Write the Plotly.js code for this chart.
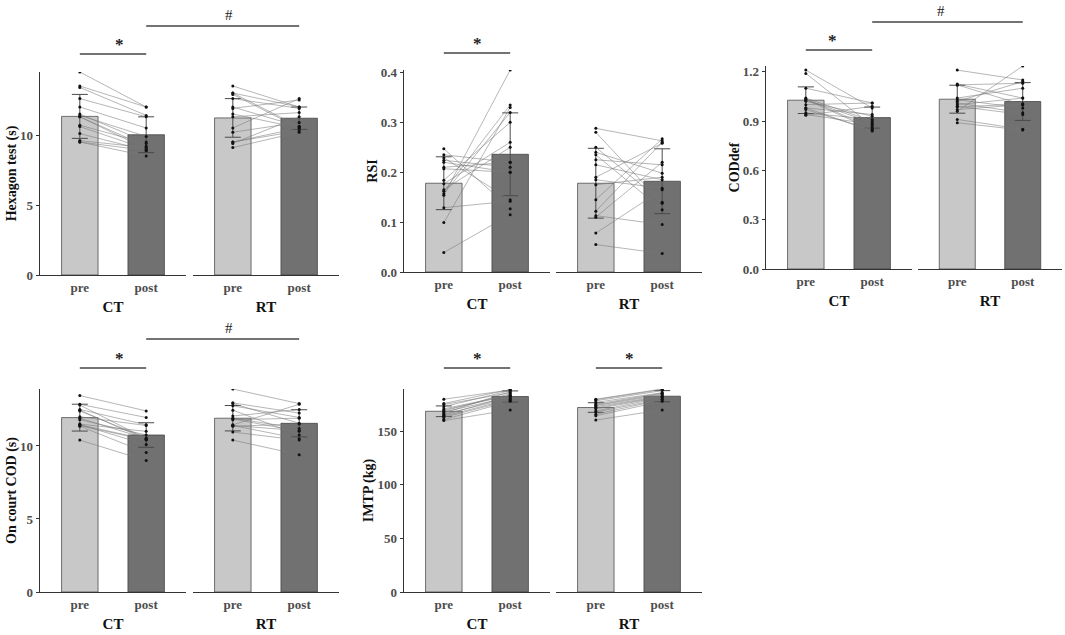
<!DOCTYPE html>
<html><head><meta charset="utf-8">
<script src="https://cdn.plot.ly/plotly-3.0.1.min.js"></script>
<style>html,body{margin:0;padding:0;background:#fff}#chart{width:1065px;height:635px}</style>
</head><body><div id="chart"></div>
<script>
// ---------- data ----------
const phases = ['pre', 'post'];
const groups = ['CT', 'RT'];

// Hexagon test (s)
const hexCTpre  = [14.5, 13.5, 13.4, 12.6, 12.0, 11.5, 11.4, 11.3, 11.3, 10.7, 10.6, 10.1, 9.6, 9.5, 9.5];
const hexCTpost = [12.0, 12.0, 11.4, 11.3, 10.5, 9.5, 9.9, 9.2, 9.0, 9.4, 9.0, 8.9, 9.1, 8.5, 8.9];
const hexRTpre  = [13.5, 13.0, 13.0, 12.9, 12.6, 12.0, 11.9, 11.5, 11.3, 10.5, 10.2, 9.5, 9.5, 9.4, 9.1];
const hexRTpost = [12.0, 10.6, 12.0, 10.5, 11.9, 10.6, 12.5, 10.5, 11.6, 12.6, 10.9, 10.5, 10.3, 11.3, 10.2];
const hexCTmean = [11.33, 10.02];
const hexCTsd   = [1.57, 1.28];
const hexRTmean = [11.22, 11.2];
const hexRTsd   = [1.38, 0.8];

// RSI
const rsiCTpre  = [0.247, 0.235, 0.229, 0.224, 0.22, 0.21, 0.207, 0.184, 0.177, 0.162, 0.157, 0.154, 0.129, 0.099, 0.039, 0.165];
const rsiCTpost = [0.127, 0.22, 0.145, 0.21, 0.2, 0.22, 0.2, 0.30, 0.26, 0.335, 0.32, 0.405, 0.142, 0.33, 0.115, 0.25];
const rsiRTpre  = [0.288, 0.28, 0.25, 0.24, 0.235, 0.225, 0.215, 0.19, 0.185, 0.175, 0.145, 0.122, 0.113, 0.11, 0.078, 0.055];
const rsiRTpost = [0.263, 0.138, 0.14, 0.198, 0.125, 0.215, 0.185, 0.258, 0.168, 0.19, 0.267, 0.26, 0.095, 0.22, 0.165, 0.037];
const rsiCTmean = [0.178, 0.236];
const rsiCTsd   = [0.053, 0.083];
const rsiRTmean = [0.178, 0.182];
const rsiRTsd   = [0.07, 0.065];

// CODdef
const codCTpre  = [1.21, 1.19, 1.10, 1.04, 1.035, 1.03, 1.03, 1.02, 1.0, 0.98, 0.98, 0.97, 0.95, 0.94, 0.935];
const codCTpost = [0.98, 0.87, 1.01, 0.90, 0.86, 0.89, 0.85, 0.93, 1.01, 0.84, 0.94, 0.845, 0.91, 0.88, 0.99];
const codRTpre  = [1.21, 1.125, 1.12, 1.12, 1.04, 1.03, 1.02, 1.01, 1.0, 0.99, 0.985, 0.97, 0.96, 0.91, 0.89];
const codRTpost = [1.15, 1.04, 1.13, 1.0, 1.10, 0.98, 1.14, 0.95, 1.04, 0.94, 1.005, 1.0, 1.235, 0.85, 0.845];
const codCTmean = [1.027, 0.921];
const codCTsd   = [0.081, 0.064];
const codRTmean = [1.033, 1.019];
const codRTsd   = [0.085, 0.115];

// On court COD (s)
const courtCTpre  = [13.45, 12.85, 12.8, 12.5, 12.45, 12.4, 12.0, 11.9, 11.8, 11.5, 11.45, 11.45, 11.4, 11.35, 10.4];
const courtCTpost = [12.4, 11.95, 10.5, 11.45, 10.45, 10.55, 11.4, 10.5, 10.75, 11.0, 10.45, 10.1, 10.4, 9.55, 9.0];
const courtRTpre  = [13.9, 12.95, 12.9, 12.75, 12.45, 12.05, 11.9, 11.85, 11.8, 11.45, 11.4, 11.4, 11.35, 10.95, 10.4];
const courtRTpost = [12.9, 12.25, 11.55, 11.95, 10.75, 12.5, 11.2, 11.0, 11.9, 12.85, 10.5, 11.05, 11.5, 10.4, 9.4];
const courtCTmean = [11.94, 10.75];
const courtCTsd   = [0.92, 0.84];
const courtRTmean = [11.9, 11.55];
const courtRTsd   = [0.87, 0.93];

// IMTP (kg)
const imtpCTpre  = [180, 176, 175, 173, 171, 170, 169, 168, 167, 166, 165, 164, 163, 161, 160];
const imtpCTpost = [188.5, 189, 186, 188, 184, 183.5, 185, 182, 187, 181, 183, 180, 179, 178, 170];
const imtpRTpre  = [180, 179.5, 178.5, 177, 175.5, 174.5, 174, 173, 172, 171, 169, 168, 166, 164.5, 160.5];
const imtpRTpost = [189.5, 189, 188, 186, 185.5, 185, 184, 183, 182.5, 182, 181.5, 180, 179.5, 178, 170];
const imtpCTmean = [168.7, 182.5];
const imtpCTsd   = [5.0, 5.2];
const imtpRTmean = [172.2, 182.8];
const imtpRTsd   = [4.5, 5.2];

const yTitles = ['Hexagon test (s)', 'RSI', 'CODdef', 'On court COD (s)', 'IMTP (kg)'];
const yDticks = [5, 0.1, 0.3, 5, 50];
const yFormats = ['d', '.1f', '.1f', 'd', 'd'];
const starGroups = [['CT'], ['CT'], ['CT'], ['CT'], ['CT', 'RT']];
const hashMarks = [true, false, true, true, false];

// ---------- build ----------
const panelsData = [
  {ct: [hexCTpre, hexCTpost], rt: [hexRTpre, hexRTpost], ctM: hexCTmean, ctS: hexCTsd, rtM: hexRTmean, rtS: hexRTsd},
  {ct: [rsiCTpre, rsiCTpost], rt: [rsiRTpre, rsiRTpost], ctM: rsiCTmean, ctS: rsiCTsd, rtM: rsiRTmean, rtS: rsiRTsd},
  {ct: [codCTpre, codCTpost], rt: [codRTpre, codRTpost], ctM: codCTmean, ctS: codCTsd, rtM: codRTmean, rtS: codRTsd},
  {ct: [courtCTpre, courtCTpost], rt: [courtRTpre, courtRTpost], ctM: courtCTmean, ctS: courtCTsd, rtM: courtRTmean, rtS: courtRTsd},
  {ct: [imtpCTpre, imtpCTpost], rt: [imtpRTpre, imtpRTpost], ctM: imtpCTmean, ctS: imtpCTsd, rtM: imtpRTmean, rtS: imtpRTsd}
];

// layout geometry in pixels
const W = 1065, H = 635;
const geom = [
  {x: [40, 186, 193, 339], y: [72, 275], star: 54, hash: 26},
  {x: [404, 550, 556, 702], y: [70, 272], star: 53, hash: 0},
  {x: [766, 912, 918, 1062], y: [66, 269], star: 50, hash: 22},
  {x: [40, 186, 193, 339], y: [389, 592], star: 368, hash: 339},
  {x: [404, 550, 556, 702], y: [389, 592], star: 368, hash: 0}
];
const XR = [-0.6, 1.6];
const serif = 'Liberation Serif';
const tickFont = {family: serif, size: 13, color: '#4d4d4d', weight: 'bold'};

const traces = [];
const layout = {
  width: W, height: H, margin: {l: 0, r: 0, t: 0, b: 0},
  paper_bgcolor: '#fff', plot_bgcolor: 'rgba(0,0,0,0)',
  showlegend: false, shapes: [], annotations: [], bargap: 0
};

function axName(k, p) { return p + (k === 1 ? '' : k); }
function catToPaper(dom, idx) { return dom[0] + (idx - XR[0]) / (XR[1] - XR[0]) * (dom[1] - dom[0]); }

panelsData.forEach((pd, i) => {
  const g = geom[i];
  const all = pd.ct[0].concat(pd.ct[1], pd.rt[0], pd.rt[1]);
  const ymax = Math.max.apply(null, all);
  const yDom = [1 - g.y[1] / H, 1 - g.y[0] / H];
  const xDoms = [[g.x[0] / W, g.x[1] / W], [g.x[2] / W, g.x[3] / W]];
  groups.forEach((grp, gi) => {
    const k = 2 * i + gi + 1;
    const xa = axName(k, 'x'), ya = axName(k, 'y');
    const vals = gi === 0 ? pd.ct : pd.rt;
    const means = gi === 0 ? pd.ctM : pd.rtM;
    const sds = gi === 0 ? pd.ctS : pd.rtS;
    traces.push({
      type: 'bar', x: phases, y: means, xaxis: xa, yaxis: ya, width: 0.55,
      marker: {color: ['#c8c8c8', '#717171'], line: {color: '#3a3a3a', width: 0.7}},
      error_y: {type: 'data', array: sds, visible: true, color: '#4a4a4a', thickness: 1, width: 8},
      hoverinfo: 'skip'
    });
    const lx = [], ly = [];
    vals[0].forEach((v, j) => { lx.push('pre', 'post', null); ly.push(v, vals[1][j], null); });
    traces.push({
      type: 'scatter', mode: 'lines+markers', x: lx, y: ly, xaxis: xa, yaxis: ya,
      connectgaps: false,
      line: {color: 'rgba(120,120,120,0.6)', width: 0.9},
      marker: {color: '#111', size: 3},
      hoverinfo: 'skip'
    });
    layout[axName(k, 'xaxis')] = {
      domain: xDoms[gi], anchor: ya, type: 'category', categoryorder: 'array', categoryarray: phases,
      range: XR, showline: true, linecolor: '#333', linewidth: 1.3, ticks: '',
      tickfont: tickFont, showgrid: false, zeroline: false, fixedrange: true,
      title: {text: grp, font: {family: serif, size: 15, color: '#111', weight: 'bold'}, standoff: 7}
    };
    const yax = {
      domain: yDom, anchor: xa, range: [0, ymax], showgrid: false, zeroline: false, fixedrange: true
    };
    if (gi === 0) {
      Object.assign(yax, {
        showline: true, linecolor: '#333', linewidth: 1.3, ticks: 'outside', ticklen: 3, tickcolor: '#333',
        dtick: yDticks[i], tick0: 0, tickformat: yFormats[i], tickfont: tickFont,
        title: {text: yTitles[i], font: {family: serif, size: 14, color: '#111', weight: 'bold'}, standoff: 0}
      });
    } else {
      Object.assign(yax, {visible: false});
    }
    layout[axName(k, 'yaxis')] = yax;
  });

  // significance bars
  const starY = 1 - g.star / H;
  starGroups[i].forEach(grp => {
    const dom = grp === 'CT' ? xDoms[0] : xDoms[1];
    const x0 = catToPaper(dom, 0), x1 = catToPaper(dom, 1);
    layout.shapes.push({type: 'line', xref: 'paper', yref: 'paper', x0: x0, x1: x1, y0: starY, y1: starY,
      line: {color: '#444', width: 1.6}});
    layout.annotations.push({xref: 'paper', yref: 'paper', x: (x0 + x1) / 2, y: starY, yanchor: 'bottom',
      showarrow: false, text: '*', yshift: -2, font: {family: serif, size: 17, color: '#222', weight: 'bold'}});
  });
  if (hashMarks[i]) {
    const hy = 1 - g.hash / H;
    const x0 = catToPaper(xDoms[0], 1), x1 = catToPaper(xDoms[1], 1);
    layout.shapes.push({type: 'line', xref: 'paper', yref: 'paper', x0: x0, x1: x1, y0: hy, y1: hy,
      line: {color: '#444', width: 1.6}});
    layout.annotations.push({xref: 'paper', yref: 'paper', x: (x0 + x1) / 2, y: hy, yanchor: 'bottom',
      showarrow: false, text: '#', yshift: 1, font: {family: serif, size: 15, color: '#222'}});
  }
});

Plotly.newPlot('chart', traces, layout, {staticPlot: true, displayModeBar: false});
</script>
</body></html>
